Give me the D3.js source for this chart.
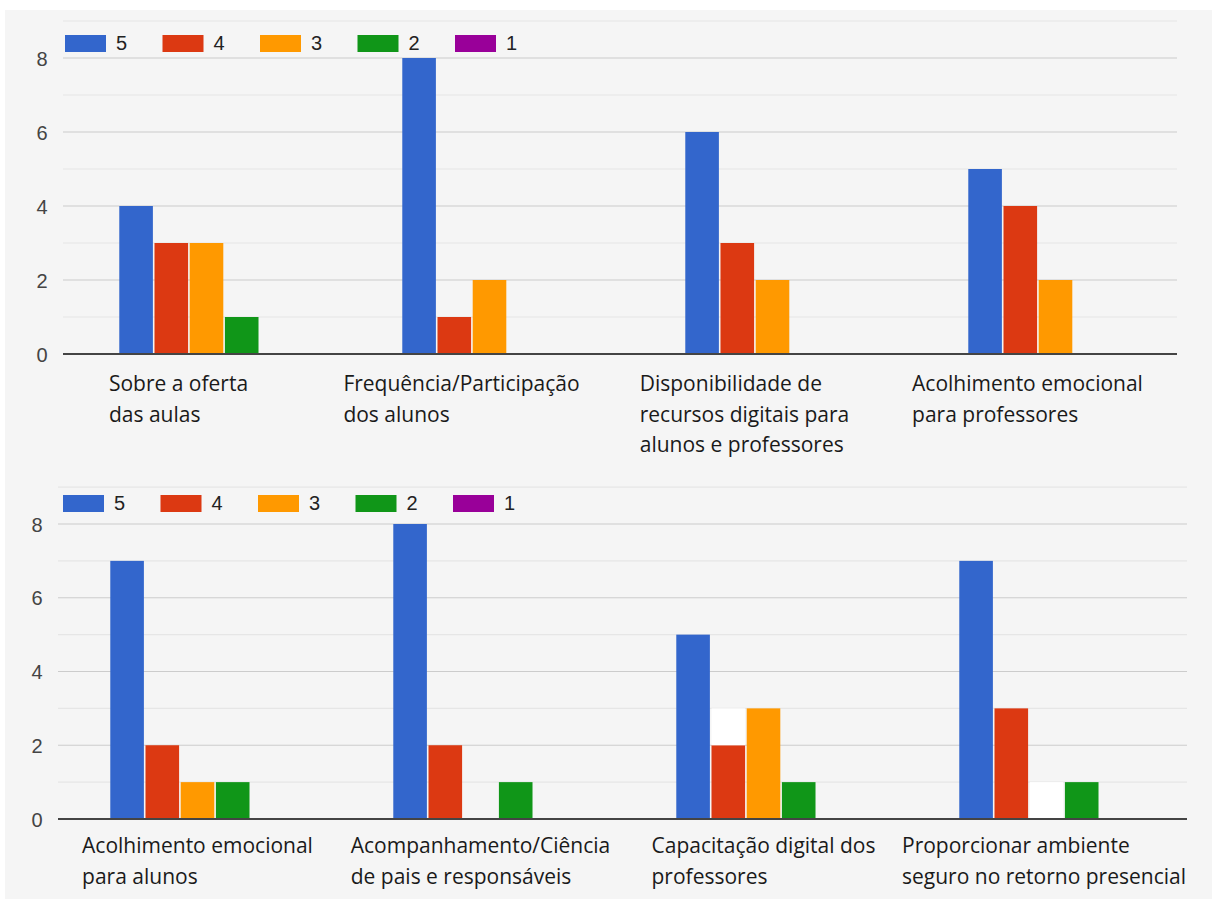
<!DOCTYPE html>
<html>
<head>
<meta charset="utf-8">
<script src="https://cdn.jsdelivr.net/npm/d3@7"></script>
<style>
  body { margin: 0; background: #fff; }
  svg { display: block; }
</style>
</head>
<body>
<svg id="chart" width="1212" height="899"></svg>
<script>
// series (rating 5..1) and their colours
const seriesNames = ["5", "4", "3", "2", "1"];
const seriesColors = ["#3366cc", "#dc3912", "#ff9900", "#109618", "#990099"];

// top chart
const topCategories = [
  ["Sobre a oferta", "das aulas"],
  ["Frequência/Participação", "dos alunos"],
  ["Disponibilidade de", "recursos digitais para", "alunos e professores"],
  ["Acolhimento emocional", "para professores"]
];
const topValues = [
  [4, 3, 3, 1, 0],
  [8, 1, 2, 0, 0],
  [6, 3, 2, 0, 0],
  [5, 4, 2, 0, 0]
];

// bottom chart
const bottomCategories = [
  ["Acolhimento emocional", "para alunos"],
  ["Acompanhamento/Ciência", "de pais e responsáveis"],
  ["Capacitação digital dos", "professores"],
  ["Proporcionar ambiente", "seguro no retorno presencial"]
];
const bottomValues = [
  [7, 2, 1, 1, 0],
  [8, 2, 0, 1, 0],
  [5, 2, 3, 1, 0],
  [7, 3, 0, 1, 0]
];
// whited-out pieces of bars in the bottom picture (category, series, from, to)
const bottomErased = [
  { cat: 2, series: 1, from: 2, to: 3 },
  { cat: 3, series: 2, from: 0, to: 1 }
];

const yTicks = [0, 2, 4, 6, 8];
const gridValues = [0, 1, 2, 3, 4, 5, 6, 7, 8, 9];

const svg = d3.select("#chart");

// page background: light grey with thin white margin top/left
svg.append("rect").attr("width", 1212).attr("height", 899).attr("fill", "#fff");
svg.append("rect").attr("x", 5).attr("y", 10).attr("width", 1207).attr("height", 889).attr("fill", "#f5f5f5");

const panels = [
  {
    categories: topCategories, values: topValues, erased: [],
    y0: 354, y8: 58, gridX0: 63, gridX1: 1177, bandX0: 65, bandX1: 1197,
    legendX: 65, legendY: 43, labelY: 391, labelShift: -28, labelMaxX: 1168
  },
  {
    categories: bottomCategories, values: bottomValues, erased: bottomErased,
    y0: 819, y8: 524, gridX0: 58, gridX1: 1187, bandX0: 56, bandX1: 1188,
    legendX: 63, legendY: 503, labelY: 853, labelShift: 0, labelMaxX: 1186
  }
];

panels.forEach(p => drawPanel(p));

function drawPanel(p) {
  const g = svg.append("g");

  const y = d3.scaleLinear().domain([0, 8]).range([p.y0, p.y8]);

  const x = d3.scaleBand()
    .domain(d3.range(p.categories.length))
    .range([p.bandX0, p.bandX1])
    .paddingInner(0.378)
    .paddingOuter(0.189);

  const xs = d3.scaleBand()
    .domain(d3.range(seriesNames.length))
    .range([0, x.bandwidth()]);

  // grid lines (even values darker)
  g.append("g")
    .selectAll("line")
    .data(gridValues.filter(v => v > 0))
    .enter()
    .append("line")
    .attr("x1", p.gridX0)
    .attr("x2", p.gridX1)
    .attr("y1", d => y(d))
    .attr("y2", d => y(d))
    .attr("stroke", d => d % 2 === 0 ? "#cccccc" : "#e6e6e6")
    .attr("stroke-width", 1.2);

  // y axis labels
  const axis = d3.axisLeft(y).tickValues(yTicks).tickSize(0).tickPadding(0);
  const ax = g.append("g")
    .attr("transform", `translate(${p.gridX0 - 21},0)`)
    .call(axis);
  ax.select(".domain").remove();
  ax.selectAll("text")
    .attr("font-family", "'Liberation Sans', Arial, sans-serif")
    .attr("font-size", 20)
    .attr("fill", "#444")
    .attr("text-anchor", "middle")
    .attr("dy", "0.36em");

  // bars
  const groups = g.append("g")
    .selectAll("g")
    .data(p.values)
    .enter()
    .append("g")
    .attr("transform", (d, i) => `translate(${x(i)},0)`);

  groups.selectAll("rect")
    .data(d => d.map((v, s) => ({ v, s })))
    .enter()
    .filter(d => d.v > 0)
    .append("rect")
    .attr("x", d => xs(d.s) + 0.8)
    .attr("width", xs.bandwidth() - 1.6)
    .attr("y", d => y(d.v))
    .attr("height", d => y(0) - y(d.v))
    .attr("fill", d => seriesColors[d.s]);

  // erased bar pieces
  g.append("g")
    .selectAll("rect")
    .data(p.erased)
    .enter()
    .append("rect")
    .attr("x", d => x(d.cat) + xs(d.series) + 0.8)
    .attr("width", xs.bandwidth() - 1.6)
    .attr("y", d => y(d.to))
    .attr("height", d => y(d.from) - y(d.to))
    .attr("fill", "#ffffff");

  // baseline
  g.append("line")
    .attr("x1", p.gridX0)
    .attr("x2", p.gridX1)
    .attr("y1", y(0))
    .attr("y2", y(0))
    .attr("stroke", "#444")
    .attr("stroke-width", 2);

  // legend
  const leg = g.append("g")
    .attr("transform", `translate(${p.legendX},${p.legendY})`);
  const items = leg.selectAll("g")
    .data(seriesNames)
    .enter()
    .append("g")
    .attr("transform", (d, i) => `translate(${i * 97.5},0)`);
  items.append("rect")
    .attr("x", 0)
    .attr("y", -8)
    .attr("width", 41)
    .attr("height", 17)
    .attr("fill", (d, i) => seriesColors[i]);
  items.append("text")
    .attr("x", 51)
    .attr("y", 0)
    .attr("dy", "0.36em")
    .attr("font-family", "'Liberation Sans', Arial, sans-serif")
    .attr("font-size", 20)
    .attr("fill", "#222")
    .text(d => d);

  // category labels: left aligned block, centred under its group
  p.categories.forEach((lines, i) => {
    const t = g.append("text")
      .attr("font-family", "'Open Sans', sans-serif")
      .attr("font-size", 21)
      .attr("fill", "#1a1a1a");
    lines.forEach((line, k) => {
      t.append("tspan")
        .attr("x", 0)
        .attr("y", p.labelY + k * 30.5)
        .text(line);
    });
    const w = t.node().getBBox().width;
    let left = x(i) + x.bandwidth() / 2 + p.labelShift - w / 2;
    if (left + w > p.labelMaxX) left = p.labelMaxX - w;
    t.selectAll("tspan").attr("x", left);
  });
}
</script>
</body>
</html>
